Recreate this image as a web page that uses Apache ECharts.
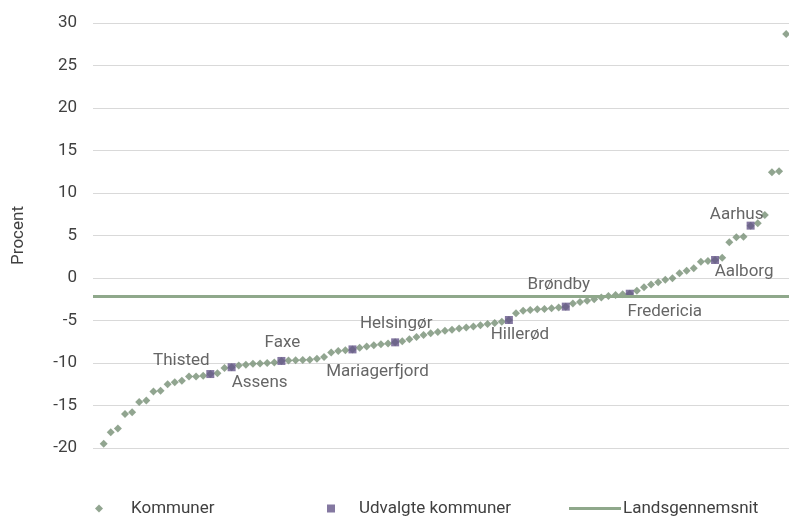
<!DOCTYPE html>
<html>
<head>
<meta charset="utf-8">
<script src="https://cdn.jsdelivr.net/npm/echarts@6/dist/echarts.min.js"></script>
<style>
  html, body { margin: 0; padding: 0; background: #fff; }
  #chart { width: 789px; height: 517px; }
</style>
</head>
<body>
<div id="chart"></div>
<script>
'use strict';
{
    // sorted change per kommune (procent)
    let kommuner = [
        -19.5, -18.15, -17.7, -16.0, -15.8, -14.6, -14.4, -13.35, -13.25, -12.5,
        -12.25, -12.1, -11.6, -11.6, -11.5, -11.3, -11.2, -10.6, -10.5, -10.3,
        -10.2, -10.1, -10.05, -10.0, -9.95, -9.76, -9.72, -9.68, -9.65, -9.62,
        -9.5, -9.3, -8.75, -8.6, -8.5, -8.4, -8.2, -8.05, -7.9, -7.8,
        -7.7, -7.57, -7.45, -7.2, -6.95, -6.7, -6.5, -6.35, -6.2, -6.1,
        -5.95, -5.82, -5.7, -5.55, -5.42, -5.3, -5.14, -4.94, -4.16, -3.85,
        -3.76, -3.69, -3.65, -3.57, -3.47, -3.37, -3.0, -2.82, -2.67, -2.51,
        -2.3, -2.12, -2.0, -1.92, -1.85, -1.49, -1.1, -0.75, -0.5, -0.2,
        -0.04, 0.55, 0.86, 1.14, 1.92, 2.0, 2.12, 2.39, 4.2, 4.78,
        4.86, 6.16, 6.43, 7.41, 12.45, 12.55, 28.7
    ];
    let udvalgteNavne = ['Thisted', 'Assens', 'Faxe', 'Mariagerfjord', 'Helsingør',
        'Hillerød', 'Brøndby', 'Fredericia', 'Aalborg', 'Aarhus'];
    let udvalgteIdx = [15, 18, 25, 35, 41, 57, 65, 74, 86, 91];
    let landsgennemsnit = -2.2;
    let yTicks = [-20, 30, 5];

    // label offsets (px) from the square
    let labelOffset = {
        'Thisted': [-29, -13],
        'Assens': [28, 15],
        'Faxe': [1, -18],
        'Mariagerfjord': [25, 22],
        'Helsingør': [1, -19],
        'Hillerød': [11, 15],
        'Brøndby': [-7, -22],
        'Fredericia': [35, 18],
        'Aalborg': [29, 12],
        'Aarhus': [-14, -11]
    };

    let dom = document.getElementById('chart');
    let myChart = echarts.init(dom, null, {renderer: 'canvas'});

    let komData = kommuner.map(function (v, i) { return [i, v]; });
    let udvData = udvalgteIdx.map(function (idx, k) {
        let name = udvalgteNavne[k];
        return {
            name: name,
            value: [idx, kommuner[idx]],
            label: {offset: labelOffset[name]}
        };
    });

    let font = 'Roboto';
    let txt = '#404040';

    let option = {
        animation: false,
        backgroundColor: '#fff',
        grid: {left: 93, right: 0, top: 23, bottom: 69, containLabel: false, outerBoundsMode: 'none'},
        xAxis: {
            type: 'value',
            min: -1.5,
            max: 96.4,
            show: false
        },
        yAxis: {
            type: 'value',
            min: yTicks[0],
            max: yTicks[1],
            interval: yTicks[2],
            name: 'Procent',
            nameLocation: 'middle',
            nameGap: 66,
            nameTextStyle: {color: txt, fontFamily: font, fontSize: 17},
            axisLine: {show: false},
            axisTick: {show: false},
            axisLabel: {color: txt, fontFamily: font, fontSize: 17, margin: 16},
            splitLine: {lineStyle: {color: '#d9d9d9', width: 1}}
        },
        legend: [
            {
                data: ['Kommuner'], left: 90, top: 495,
                icon: 'diamond', itemWidth: 8, itemHeight: 8,
                textStyle: {color: txt, fontFamily: font, fontSize: 17, padding: [0, 0, 0, 23]}
            },
            {
                data: ['Udvalgte kommuner'], left: 322, top: 495,
                icon: 'rect', itemWidth: 8, itemHeight: 8,
                textStyle: {color: txt, fontFamily: font, fontSize: 17, padding: [0, 0, 0, 19]}
            },
            {
                data: ['Landsgennemsnit'], left: 564, top: 495,
                icon: 'rect', itemWidth: 52, itemHeight: 3,
                textStyle: {color: txt, fontFamily: font, fontSize: 17, padding: [0, 0, 0, -3]}
            }
        ],
        series: [
            {
                name: 'Landsgennemsnit',
                type: 'line',
                data: [],
                color: '#8fa88b',
                lineStyle: {color: '#8fa88b', width: 3},
                markLine: {
                    silent: true,
                    symbol: 'none',
                    label: {show: false},
                    lineStyle: {color: '#8fa88b', width: 3, type: 'solid'},
                    data: [{yAxis: landsgennemsnit}]
                }
            },
            {
                name: 'Kommuner',
                type: 'scatter',
                symbol: 'diamond',
                symbolSize: 8,
                itemStyle: {color: '#768f74'},
                data: komData
            },
            {
                name: 'Udvalgte kommuner',
                type: 'scatter',
                symbol: 'rect',
                symbolSize: 8,
                itemStyle: {color: '#65568a'},
                label: {
                    show: true,
                    position: 'inside',
                    formatter: '{b}',
                    color: txt,
                    fontFamily: font,
                    fontSize: 17
                },
                data: udvData
            }
        ]
    };
    if (option && typeof option === 'object') {
        myChart.setOption(option, true);
    }
}
</script>
</body>
</html>
